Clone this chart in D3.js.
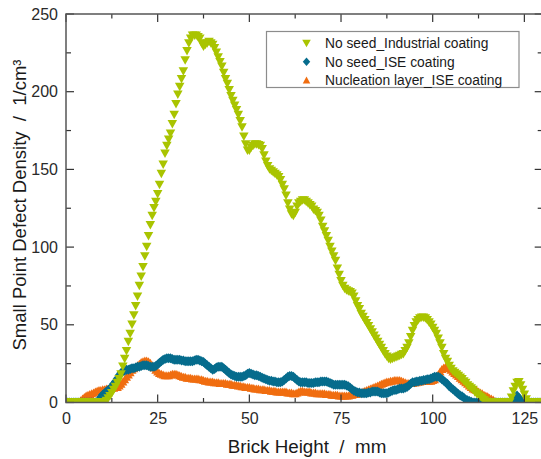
<!DOCTYPE html>
<html>
<head>
<meta charset="utf-8">
<script src="https://cdn.jsdelivr.net/npm/d3@7"></script>
<style>
  html, body { margin: 0; padding: 0; background: #fff; }
  svg { display: block; font-family: "Liberation Sans", Arial, sans-serif; }
</style>
</head>
<body>
<svg id="chart" width="541" height="459"></svg>
<script>
// Sampling grid along the brick height (mm), 0.5 mm steps
const brickHeight = d3.range(0, 130.001, 0.5);

// Small point defect density (1/cm³), one row = 5 mm
const noSeedIndustrial = [
  0, 0, 0, 0, 0, 0, 0, 0, 0, 0,                         // 0
  0, 0, 0, 0, 0, 0, 0, 0, 0, 0,                         // 5
  0, 0, 1, 2.5, 4, 6, 8, 10, 12.5, 15,                  // 10
  18, 23, 28, 33, 39, 44, 50, 56, 62, 68,               // 15
  75, 81, 87, 94, 100, 107, 114, 120, 125, 129,         // 20
  134, 140, 147, 153, 160, 165, 169, 173, 179, 185,     // 25
  192, 198, 203, 208, 213, 220, 226, 231, 234, 236,     // 30
  236, 236, 235, 234, 231, 229, 230, 231, 232, 231,     // 35
  230, 228, 225, 222, 219, 216, 212, 208, 205, 201,     // 40
  197, 194, 191, 188, 185, 181, 177, 171, 166, 162,     // 45
  162, 164, 165, 166, 166, 165.5, 165, 163, 159, 155,   // 50
  152, 150, 149, 148, 147, 146, 145, 143, 140, 137,     // 55
  133, 128, 124, 121, 120, 122, 126, 128, 129, 130,     // 60
  130, 129, 128, 127, 126, 124, 123, 122, 120, 117,     // 65
  113, 110, 107, 104, 100, 97, 94, 91, 86, 82,          // 70
  78, 75, 73, 72, 71.5, 71, 70, 68, 65, 62,             // 75
  60, 57, 55, 53, 51, 49, 47, 45, 43, 41,               // 80
  39, 37, 35, 33, 31, 29.5, 28, 27.5, 28, 28.5,         // 85
  29, 29.5, 30, 30.5, 31, 33, 35, 38, 42, 46,           // 90
  49, 51.5, 53, 54, 54.5, 54.5, 54, 53, 51.5, 50,       // 95
  48, 46, 44, 41, 38, 35, 31, 28, 26, 23.5,             // 100
  21.5, 20, 19, 18, 17, 16, 15, 13.5, 12.5, 11,         // 105
  10, 9, 8, 6.5, 5.5, 4.5, 3.5, 2.5, 1.5, 0.5,          // 110
  0, 0, 0, 0, 0, 0, 0, 0, 0, 0,                         // 115
  0, 0, 0, 3, 7, 10, 12.5, 13, 11, 8,                   // 120
  5, 2, 0, 0, 0, 0, 0, 0, 0, 0,                         // 125
  0                                                     // 130
];

const noSeedISE = [
  0, 0, 0, 0, 0, 0, 0, 0, 0, 0,                         // 0
  0, 0, 0, 0, 0, 0, 0, 0.5, 1.5, 3.5,                   // 5
  5, 6, 7, 8, 9, 10, 12, 13.5, 15.5, 17.5,              // 10
  19, 20, 20.5, 21, 21, 21.5, 22, 22, 22.5, 23,         // 15
  23, 23.5, 24, 24, 24, 23.5, 23, 23, 23, 23.5,         // 20
  24.5, 25.5, 26.5, 27.5, 28, 28.5, 28.5, 28.5, 28, 27.5, // 25
  27.5, 27.5, 27.5, 27, 27, 26.5, 26.5, 26.5, 26.5, 26.5, // 30
  27, 27.5, 27.5, 27, 26.5, 26, 25, 24, 23, 22,         // 35
  21, 21.5, 22.5, 23, 23, 23, 22, 21, 20, 19,           // 40
  18, 17.5, 17, 16.5, 16.5, 16.5, 16.5, 17, 17.5, 18.5, // 45
  19, 18.5, 18, 17.5, 17.5, 17, 16.5, 16, 15.5, 15,     // 50
  14.5, 14, 14, 13.5, 13.5, 13, 13, 13, 13.5, 14.5,     // 55
  15.5, 16.5, 17, 17, 16.5, 15.5, 14.5, 13.5, 13, 13,   // 60
  13, 13, 12.5, 12.5, 12.5, 12.5, 13, 13, 13, 13.5,     // 65
  13.5, 13.5, 13.5, 13, 12.5, 12, 11.5, 11.5, 11.5, 11.5, // 70
  11.5, 11.5, 11.5, 11, 10.5, 9.5, 8.5, 7.5, 7, 6.5,    // 75
  6.5, 6, 6, 6, 6, 6.5, 6.5, 7, 7, 7,                   // 80
  7, 6.5, 6, 6, 6, 6, 6.5, 7, 7.5, 8,                   // 85
  8, 8.5, 9, 9, 9, 9.5, 10, 11, 12, 13,                 // 90
  13, 13.5, 13.5, 14, 14, 14.5, 14.5, 15, 15, 15.5,     // 95
  16, 16.5, 16.5, 16.5, 16, 15, 14, 13, 12, 10.5,       // 100
  9.5, 8.5, 7.5, 6.5, 5.5, 4.5, 4, 3, 2, 1.5,           // 105
  1, 0.5, 0, 0, 0, 0, 0, 0, 0, 0,                       // 110
  0, 0, 0, 0, 0, 0, 0, 0, 0, 0,                         // 115
  0, 0, 0, 0, 0, 2.5, 4.5, 3, 1, 0,                     // 120
  0, 0, 0, 0, 0, 0, 0, 0, 0, 0,                         // 125
  0                                                     // 130
];

const nucleationISE = [
  0, 0, 0, 0, 0, 0, 0, 0.5, 1.5, 2.5,                   // 0
  3.5, 4.5, 5, 5.5, 6, 6.5, 7, 7.5, 8, 8,               // 5
  8.5, 8.5, 9, 9, 9, 9.5, 9.5, 10, 10, 11,              // 10
  12, 13.5, 15, 16.5, 18, 19.5, 21, 22, 23, 24,         // 15
  25, 26, 26.5, 27, 27, 26.5, 25.5, 24, 22.5, 21,       // 20
  20, 19, 18.5, 18, 17.5, 17.5, 17.5, 18, 18.5, 18.5,   // 25
  18.5, 18, 17.5, 17, 16.5, 16.5, 16, 16, 16, 15.5,     // 30
  15.5, 15.5, 15.5, 15, 15, 14.5, 14, 14, 13.5, 13.5,   // 35
  13.5, 13, 13, 13, 12.5, 12.5, 12.5, 12.5, 12, 12,     // 40
  12, 11.5, 11.5, 11.5, 11, 11, 10.5, 10.5, 10, 10,     // 45
  10, 9.5, 9.5, 9, 9, 9, 8.5, 8.5, 8.5, 8,              // 50
  8, 8, 7.5, 7.5, 7.5, 7, 7, 7, 7, 7,                   // 55
  7, 6.5, 6.5, 6.5, 6, 6, 6.5, 7, 7.5, 7.5,             // 60
  7, 7, 7, 7, 6.5, 6.5, 6.5, 6, 6, 6,                   // 65
  6, 6, 5.5, 5.5, 5.5, 5, 5, 5, 5, 4.5,                 // 70
  4.5, 4.5, 4.5, 4.5, 4.5, 5, 5, 5.5, 5.5, 6,           // 75
  6, 6.5, 7, 7.5, 8, 8.5, 9, 9.5, 10, 10.5,             // 80
  11, 11.5, 12, 12.5, 13, 13.5, 13.5, 14, 14, 14.5,     // 85
  14.5, 14.5, 14.5, 14, 13.5, 13, 12.5, 12.5, 12.5, 12.5, // 90
  13, 13, 13.5, 13.5, 14, 14, 14, 14, 14, 14,           // 95
  14.5, 15, 16.5, 18, 20, 21.5, 22.5, 23, 22.5, 22,     // 100
  21, 20, 19, 18, 17, 16, 15, 14, 13, 12,               // 105
  11, 10, 9, 8.5, 8, 7, 6.5, 6, 5, 4.5,                 // 110
  4, 3, 2.5, 2, 1, 0.5, 0, 0, 0, 0,                     // 115
  0, 0, 0, 0, 0, 1.5, 3, 1.5, 0, 0,                     // 120
  0, 0, 0, 0, 0, 0, 0, 0, 0, 0,                         // 125
  0                                                     // 130
];

const seriesNames = ["No seed_Industrial coating", "No seed_ISE coating", "Nucleation layer_ISE coating"];
const xTicks = [0, 25, 50, 75, 100, 125];
const yTicks = [0, 50, 100, 150, 200, 250];

const m = { left: 66, top: 14, right: 542.7, bottom: 402.5 };

const x = d3.scaleLinear().domain([0, 130]).range([m.left, m.right]);
const y = d3.scaleLinear().domain([0, 250]).range([m.bottom, m.top]);

const svg = d3.select("#chart");

svg.append("defs").append("clipPath").attr("id", "plot-clip")
  .append("rect")
  .attr("x", m.left).attr("y", m.top)
  .attr("width", m.right - m.left).attr("height", m.bottom - m.top);

// Marker shapes
function downTri(w, h) {
  return `M${-w / 2},${-h / 2}L${w / 2},${-h / 2}L0,${h / 2}Z`;
}
function upTri(w, h) {
  return `M${-w / 2},${h / 2}L${w / 2},${h / 2}L0,${-h / 2}Z`;
}
function diamond(w, h) {
  return `M0,${-h / 2}L${w / 2},0L0,${h / 2}L${-w / 2},0Z`;
}

const series = [
  { name: seriesNames[2], values: nucleationISE, color: "#f06d10", path: upTri(9, 8) },
  { name: seriesNames[1], values: noSeedISE, color: "#066c8d", path: diamond(9, 10) },
  { name: seriesNames[0], values: noSeedIndustrial, color: "#a9c400", path: downTri(9.5, 8.5) }
];

const plot = svg.append("g").attr("clip-path", "url(#plot-clip)");
series.forEach(s => {
  plot.append("g")
    .selectAll("path")
    .data(brickHeight.map((h, i) => [h, s.values[i]]))
    .join("path")
    .attr("d", s.path)
    .attr("fill", s.color)
    .attr("transform", d => `translate(${x(d[0])},${y(d[1])})`);
});

// Frame and axes
const axisColor = "#555";
const bottomAxis = d3.axisBottom(x).tickValues(xTicks).tickSize(0).tickPadding(10);
const leftAxis = d3.axisLeft(y).tickValues(yTicks).tickSize(0).tickPadding(8);

const gx = svg.append("g").attr("transform", `translate(0,${m.bottom})`).call(bottomAxis);
const gy = svg.append("g").attr("transform", `translate(${m.left},0)`).call(leftAxis);
[gx, gy].forEach(g => {
  g.select(".domain").remove();
  g.selectAll("text")
    .attr("font-family", "'Liberation Sans', Arial, sans-serif")
    .attr("font-size", 16)
    .attr("fill", "#2a2a2a");
});

const xMinor = d3.range(12.5, 130, 25);
const yMinor = d3.range(25, 250, 50);
const ticks = svg.append("g").attr("stroke", "#333").attr("stroke-width", 1.2);
// bottom / top inward ticks
xTicks.forEach(v => {
  ticks.append("line").attr("x1", x(v)).attr("x2", x(v)).attr("y1", m.bottom).attr("y2", m.bottom - 8);
  ticks.append("line").attr("x1", x(v)).attr("x2", x(v)).attr("y1", m.top).attr("y2", m.top + 8);
});
xMinor.forEach(v => {
  ticks.append("line").attr("x1", x(v)).attr("x2", x(v)).attr("y1", m.bottom).attr("y2", m.bottom - 4.5);
  ticks.append("line").attr("x1", x(v)).attr("x2", x(v)).attr("y1", m.top).attr("y2", m.top + 4.5);
});
// left / right inward ticks
yTicks.forEach(v => {
  ticks.append("line").attr("y1", y(v)).attr("y2", y(v)).attr("x1", m.left).attr("x2", m.left + 8);
  ticks.append("line").attr("y1", y(v)).attr("y2", y(v)).attr("x1", m.right).attr("x2", m.right - 8);
});
yMinor.forEach(v => {
  ticks.append("line").attr("y1", y(v)).attr("y2", y(v)).attr("x1", m.left).attr("x2", m.left + 5);
  ticks.append("line").attr("y1", y(v)).attr("y2", y(v)).attr("x1", m.right).attr("x2", m.right - 5);
});

svg.append("rect")
  .attr("x", m.left).attr("y", m.top)
  .attr("width", m.right - m.left).attr("height", m.bottom - m.top)
  .attr("fill", "none").attr("stroke", axisColor).attr("stroke-width", 1.5);

// Axis titles
svg.append("text")
  .attr("x", 307).attr("y", 452.5)
  .attr("text-anchor", "middle")
  .attr("font-size", 18.8).attr("fill", "#1a1a1a")
  .attr("xml:space", "preserve")
  .text("Brick Height  /  mm");

svg.append("text")
  .attr("transform", "translate(25.5,205) rotate(-90)")
  .attr("text-anchor", "middle")
  .attr("font-size", 18.5).attr("fill", "#1a1a1a")
  .attr("xml:space", "preserve")
  .text("Small Point Defect Density  /  1/cm³");

// Legend
const legend = svg.append("g");
legend.append("rect")
  .attr("x", 266.5).attr("y", 31.5).attr("width", 252.5).attr("height", 56)
  .attr("fill", "#fff").attr("stroke", "#8c8c8c").attr("stroke-width", 1.2);

const legendItems = [series[2], series[1], series[0]];
const legendShapes = [downTri(8.5, 7.5), diamond(7.5, 8.5), upTri(7.5, 7)];
legendItems.forEach((s, i) => {
  const cy = 43.5 + i * 18.3;
  legend.append("path").attr("d", legendShapes[i]).attr("fill", s.color)
    .attr("transform", `translate(306.5,${cy})`);
  legend.append("text")
    .attr("x", 325).attr("y", cy + 4.8)
    .attr("font-size", 13.8).attr("fill", "#1a1a1a")
    .text(s.name);
});
</script>
</body>
</html>
